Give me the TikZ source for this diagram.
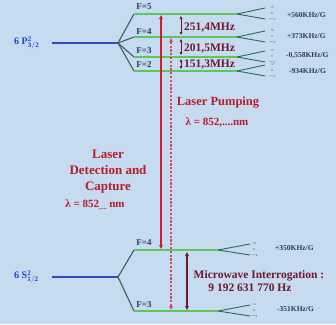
\documentclass[tikz,border=0pt]{standalone}
\usepackage{fontspec}
\setmainfont{Liberation Serif}
\usetikzlibrary{arrows.meta}
\definecolor{bg}{RGB}{198,218,240}
\definecolor{lvl}{RGB}{45,75,185}
\definecolor{lbl}{RGB}{35,65,200}
\definecolor{grn}{RGB}{90,200,90}
\definecolor{fang}{RGB}{70,90,100}
\definecolor{fanr}{RGB}{45,105,85}
\definecolor{rtxt}{RGB}{180,30,45}
\definecolor{rarr}{RGB}{205,30,50}
\definecolor{darr}{RGB}{215,75,95}
\definecolor{marr}{RGB}{110,25,45}
\definecolor{gtxt}{RGB}{45,60,90}
\tikzset{
  baseline/.style={draw=lvl, line width=1.3pt},
  fanline/.style={draw=fang, line width=1.1pt},
  hyper/.style={draw=grn, line width=1.8pt},
  zfan/.style={draw=fanr, line width=0.9pt},
  flabel/.style={text=gtxt, font=\bfseries\fontsize{9}{9}\selectfont, inner sep=0pt},
  zlabel/.style={text=gtxt, font=\bfseries\fontsize{7.5}{7.5}\selectfont, inner sep=0pt, anchor=west},
  mf/.style={text=gtxt, font=\fontsize{3}{3}\selectfont, inner sep=0pt},
  statelabel/.style={text=lbl, font=\bfseries\fontsize{10}{10}\selectfont, inner sep=0pt},
  redtext/.style={text=rtxt, font=\bfseries\fontsize{12.5}{15.5}\selectfont, inner sep=0pt, align=center},
  freq/.style={text=marr, font=\bfseries\fontsize{11.5}{11.5}\selectfont, inner sep=0pt, anchor=west},
  tip/.style={{Triangle[length=4pt,width=3.5pt]}-{Triangle[length=4pt,width=3.5pt]}},
  smalltip/.style={{Triangle[length=3pt,width=2.6pt]}-{Triangle[length=3pt,width=2.6pt]}}
}
\begin{document}
\begin{tikzpicture}[x=1pt,y=-1pt]
\fill[bg] (0,0) rectangle (336,324);
\useasboundingbox (0,0) rectangle (336,324);
\clip (0,0) rectangle (336,324);

% ---------- excited state 6P3/2 ----------
\node[statelabel, anchor=west] (Plab) at (14,43) {6 P$^{\mathbf{2}}_{\mathbf{3/2}}$};
\coordinate (Pa) at (52,43);
\coordinate (P) at (118,43);
\draw[baseline] (Pa) -- (P);

\coordinate (f5a) at (134,14);  \coordinate (f5b) at (237,14);
\coordinate (f4a) at (134,37);  \coordinate (f4b) at (237,37);
\coordinate (f3a) at (134,57);  \coordinate (f3b) at (237,57);
\coordinate (f2a) at (134,71);  \coordinate (f2b) at (237,71);
\foreach \n in {f5,f4,f3,f2}{
  \draw[fanline] (P) -- (\n a);
  \draw[hyper] (\n a) -- (\n b);
  \draw[zfan] (\n b) -- ++(28,-6);
  \draw[zfan] (\n b) -- ++(28,5);
}
\node[flabel] (F5) at (144,7) {F=5};
\node[flabel] (F4) at (144,32) {F=4};
\node[flabel] (F3) at (144,51) {F=3};
\node[flabel] (F2) at (144,65) {F=2};

% tiny mF labels
\node[mf] at (272,8) {+5}; \node[mf] at (272,14) {0}; \node[mf] at (272,19) {$-$5};
\node[mf] at (272,31) {+4}; \node[mf] at (272,37) {0}; \node[mf] at (272,42) {$-$4};
\node[mf] at (272,51) {+3}; \node[mf] at (272,57) {0}; \node[mf] at (272,62) {$-$3};
\node[mf] at (272,65) {+2}; \node[mf] at (272,71) {0}; \node[mf] at (272,76) {$-$2};

\node[zlabel] (z5) at (287,15) {+560KHz/G};
\node[zlabel] (z4) at (287,36) {+373KHz/G};
\node[zlabel] (z3) at (286,56) {-0,558KHz/G};
\node[zlabel] (z2) at (289,71) {-934KHz/G};

% hyperfine spacings
\coordinate (s5) at (181,16); \coordinate (s4u) at (181,35);
\coordinate (s4d) at (181,39); \coordinate (s3u) at (181,55);
\coordinate (s3d) at (181,59); \coordinate (s2u) at (181,69);
\draw[marr, line width=0.8pt, smalltip] (s5) -- (s4u);
\draw[marr, line width=0.8pt, smalltip] (s4d) -- (s3u);
\draw[marr, line width=0.8pt, smalltip] (s3d) -- (s2u);
\node[freq] (d54) at (184,28) {251,4MHz};
\node[freq] (d43) at (184,49) {201,5MHz};
\node[freq] (d32) at (184,65) {151,3MHz};

% ---------- ground state 6S1/2 ----------
\node[statelabel, anchor=west] (Slab) at (14,277) {6 S$^{\mathbf{2}}_{\mathbf{1/2}}$};
\coordinate (Sa) at (52,277);
\coordinate (S) at (118,277);
\draw[baseline] (Sa) -- (S);
\coordinate (g4a) at (134,250);  \coordinate (g4b) at (218,250);
\coordinate (g3a) at (134,311);  \coordinate (g3b) at (218,311);
\foreach \n in {g4,g3}{
  \draw[fanline] (S) -- (\n a);
  \draw[hyper] (\n a) -- (\n b);
  \draw[zfan] (\n b) -- ++(32,-6);
  \draw[zfan] (\n b) -- ++(32,5);
}
\node[flabel] (G4) at (144,243) {F=4};
\node[flabel] (G3) at (144,305) {F=3};
\node[mf] at (254,244) {+4}; \node[mf] at (254,250) {0}; \node[mf] at (254,255) {$-$4};
\node[mf] at (254,305) {+3}; \node[mf] at (254,311) {0}; \node[mf] at (254,316) {$-$3};
\node[zlabel] (y4) at (275,248) {+350KHz/G};
\node[zlabel] (y3) at (277,309) {-351KHz/G};

% ---------- laser transitions ----------
\coordinate (r1) at (161,15);
\coordinate (r2) at (161,249);
\draw[rarr, line width=1.3pt, tip] (r1) -- (r2);
\coordinate (p1) at (171,38);
\coordinate (p2) at (171,310);
\draw[darr, line width=1.3pt, dash pattern=on 2.2pt off 1.6pt, tip] (p1) -- (p2);

\node[redtext] (pump) at (218,103) {Laser Pumping};
\node[redtext, font=\bfseries\fontsize{11}{11}\selectfont] (pumpl) at (217,122) {λ = 852,....nm};

\node[redtext, font=\bfseries\fontsize{13}{16}\selectfont] (det) at (108,172) {Laser\\Detection and\\Capture};
\node[redtext, font=\bfseries\fontsize{11}{11}\selectfont] (detl) at (95,205) {λ = 852\raisebox{-2pt}{\fontsize{6}{6}\selectfont ,....} nm};

% ---------- microwave ----------
\coordinate (m1) at (187,252);
\coordinate (m2) at (187,310);
\draw[marr, line width=1.1pt, tip] (m1) -- (m2);
\node[text=marr, font=\bfseries\fontsize{11.5}{11.5}\selectfont, inner sep=0pt] (mw1) at (259,276) {Microwave Interrogation :};
\node[text=marr, font=\bfseries\fontsize{11.5}{11.5}\selectfont, inner sep=0pt] (mw2) at (250,288) {9 192 631 770 Hz};
\end{tikzpicture}
\end{document}
